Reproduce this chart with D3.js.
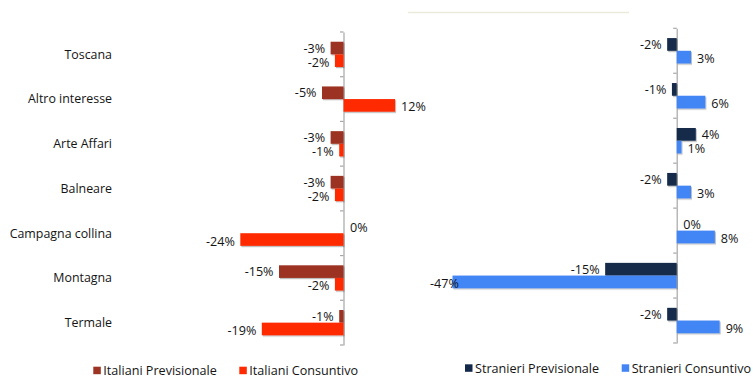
<!DOCTYPE html>
<html>
<head>
<meta charset="utf-8">
<script src="https://cdn.jsdelivr.net/npm/d3@7"></script>
<style>
  html, body { margin: 0; padding: 0; background: #fff; }
  svg { display: block; font-family: "Open Sans", Lato, sans-serif; }
</style>
</head>
<body>
<svg id="chart" width="753" height="378"></svg>
<script>
// Variazioni percentuali per prodotto turistico
const categories = ["Toscana", "Altro interesse", "Arte Affari", "Balneare", "Campagna collina", "Montagna", "Termale"];
const italianiPrevisionale = [-3, -5, -3, -3, 0, -15, -1];
const italianiConsuntivo   = [-2, 12, -1, -2, -24, -2, -19];
const stranieriPrevisionale = [-2, -1, 4, -2, 0, -15, -2];
const stranieriConsuntivo   = [3, 6, 1, 3, 8, -47, 9];
const seriesNames = {
  itPrev: "Italiani Previsionale", itCons: "Italiani Consuntivo",
  stPrev: "Stranieri Previsionale", stCons: "Stranieri Consuntivo"
};

const svg = d3.select("#chart");
const textColor = "#141414";

// soft drop shadow under the bars
const defs = svg.append("defs");
const f = defs.append("filter").attr("id", "shadow")
  .attr("x", "-10%").attr("y", "-20%").attr("width", "130%").attr("height", "160%");
f.append("feDropShadow").attr("dx", 1).attr("dy", 1.2).attr("stdDeviation", 0.6)
  .attr("flood-color", "#000").attr("flood-opacity", 0.28);

// thin decorative rule at the top centre
svg.append("line")
  .attr("x1", 408).attr("x2", 629).attr("y1", 12.5).attr("y2", 12.5)
  .attr("stroke", "#ecebdb").attr("stroke-width", 1.5);

function panel(opts) {
  const g = svg.append("g");
  const x = d3.scaleLinear().domain(opts.domain).range(opts.xRange);
  const y = d3.scaleBand().domain(categories).range(opts.yRange).paddingInner(0.435).paddingOuter(0.2175);
  const tickY = d3.scaleBand().domain(categories).range(opts.yRange);
  const sub = d3.scaleBand().domain(["prev", "cons"]).range([0, y.bandwidth()]);

  // category axis at zero
  const axis = d3.axisLeft(tickY).tickSize(0).tickFormat("");
  const ax = g.append("g").attr("transform", `translate(${x(0)},0)`).call(axis);
  ax.select(".domain").attr("stroke", "#a6a6a6").attr("stroke-width", 1.2);
  const bounds = [opts.yRange[0]].concat(categories.map(c => tickY(c) + tickY.step()));
  g.selectAll(".tk").data(bounds).join("line")
    .attr("x1", x(0) - 3.5).attr("x2", x(0)).attr("y1", d => d).attr("y2", d => d)
    .attr("stroke", "#a6a6a6").attr("stroke-width", 1.2);

  if (opts.showCategories) {
    g.selectAll(".cat").data(categories).join("text")
      .attr("x", 112).attr("y", c => tickY(c) + tickY.bandwidth() / 2)
      .attr("dy", "0.35em").attr("text-anchor", "end")
      .attr("font-size", 12.4).attr("fill", textColor).text(c => c);
  }

  const rows = [
    { key: "prev", values: opts.prev, color: opts.prevColor },
    { key: "cons", values: opts.cons, color: opts.consColor }
  ];
  rows.forEach(r => {
    const data = categories.map((c, i) => ({ c, v: r.values[i] }));
    g.selectAll(".bar-" + r.key).data(data.filter(d => d.v !== 0)).join("rect")
      .attr("x", d => x(Math.min(0, d.v)))
      .attr("width", d => Math.abs(x(d.v) - x(0)))
      .attr("y", d => y(d.c) + sub(r.key))
      .attr("height", sub.bandwidth())
      .attr("fill", r.color)
      .attr("filter", "url(#shadow)");

    const labels = g.selectAll(".lab-" + r.key).data(data).join("text")
      .attr("y", d => y(d.c) + sub(r.key) + sub.bandwidth() / 2 + (r.key === "prev" ? 0.2 : 1.6))
      .attr("dy", "0.35em")
      .attr("font-size", 12.6).attr("fill", textColor)
      .text(d => d.v + "%");
    labels.each(function (d) {
      const t = d3.select(this);
      const w = this.getComputedTextLength();
      if (d.v < 0) {
        let xEnd = x(d.v) - 5.5;
        if (xEnd - w < opts.labelMin) xEnd = opts.labelMin + w;
        t.attr("x", xEnd).attr("text-anchor", "end");
      } else {
        t.attr("x", x(d.v) + (d.v === 0 ? 6.5 : 6)).attr("text-anchor", "start");
      }
    });
  });

  // legend
  opts.legend.forEach(l => {
    svg.append("rect").attr("x", l.x).attr("y", opts.legendY).attr("width", 7.5).attr("height", 7.5).attr("fill", l.color);
    svg.append("text").attr("x", l.x + 10).attr("y", opts.legendY + 3.8).attr("dy", "0.35em")
      .attr("font-size", 12.6).attr("fill", textColor).text(l.name);
  });
}

panel({
  domain: [-30, 15], xRange: [343.5 - 30 * 4.3, 343.5 + 15 * 4.3],
  yRange: [32, 345], showCategories: true,
  prev: italianiPrevisionale, cons: italianiConsuntivo,
  prevColor: "#9c3323", consColor: "#ff2a00", labelMin: 200,
  legendY: 366.7,
  legend: [{ x: 93.3, color: "#9c3323", name: seriesNames.itPrev },
           { x: 239.3, color: "#ff2a00", name: seriesNames.itCons }]
});

panel({
  domain: [-50, 15], xRange: [676.7 - 50 * 4.77, 676.7 + 15 * 4.77],
  yRange: [28.3, 343], showCategories: false,
  prev: stranieriPrevisionale, cons: stranieriConsuntivo,
  prevColor: "#14294a", consColor: "#4385f5", labelMin: 430,
  legendY: 364.3,
  legend: [{ x: 465, color: "#14294a", name: seriesNames.stPrev },
           { x: 621.7, color: "#4385f5", name: seriesNames.stCons }]
});
</script>
</body>
</html>
